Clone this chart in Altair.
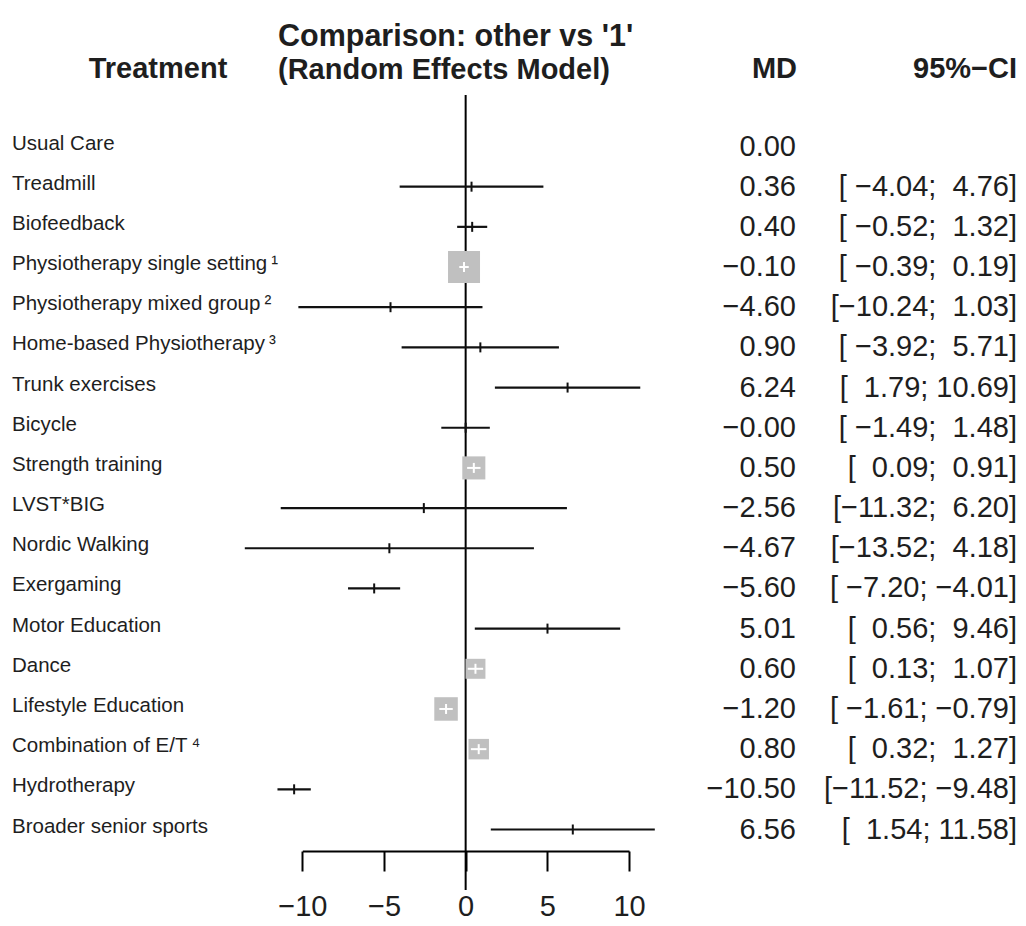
import altair as alt
import pandas as pd

# ---- data ----
treatments = [
    "Usual Care",
    "Treadmill",
    "Biofeedback",
    "Physiotherapy single setting\u2009\u00b9",
    "Physiotherapy mixed group\u2009\u00b2",
    "Home-based Physiotherapy\u2009\u00b3",
    "Trunk exercises",
    "Bicycle",
    "Strength training",
    "LVST*BIG",
    "Nordic Walking",
    "Exergaming",
    "Motor Education",
    "Dance",
    "Lifestyle Education",
    "Combination of E/T\u2009\u2074",
    "Hydrotherapy",
    "Broader senior sports",
]
md = [0.00, 0.36, 0.40, -0.10, -4.60, 0.90, 6.24, -0.0, 0.50, -2.56,
      -4.67, -5.60, 5.01, 0.60, -1.20, 0.80, -10.50, 6.56]
lower = [None, -4.04, -0.52, -0.39, -10.24, -3.92, 1.79, -1.49, 0.09, -11.32,
         -13.52, -7.20, 0.56, 0.13, -1.61, 0.32, -11.52, 1.54]
upper = [None, 4.76, 1.32, 0.19, 1.03, 5.71, 10.69, 1.48, 0.91, 6.20,
         4.18, -4.01, 9.46, 1.07, -0.79, 1.27, -9.48, 11.58]
# relative weight of the comparison (drawn as grey squares)
weight = [0, 0, 0, 100, 0, 0, 0, 0, 52, 0, 0, 0, 0, 39, 54, 41, 0, 0]
x_ticks = [-10, -5, 0, 5, 10]


def fmt_num(v, width=0):
    s = f"{v:{width}.2f}"
    return s.replace("-", "\u2212").replace(" ", "\u00a0")


md_txt = [fmt_num(v) for v in md]
ci_txt = [
    "" if lo is None else "[" + fmt_num(lo, 6) + ";\u00a0" + fmt_num(hi, 5) + "]"
    for lo, hi in zip(lower, upper)
]

df = pd.DataFrame({
    "row": list(range(len(treatments))),
    "label": treatments,
    "md": md,
    "lower": lower,
    "upper": upper,
    "weight": weight,
    "md_txt": md_txt,
    "ci_txt": ci_txt,
})

FONT = "Liberation Sans"
INK = "#1e1e1e"

xscale = alt.Scale(domain=[-10, 10], range=[294.3, 621], nice=False, zero=False)
xaxis = alt.Axis(
    values=x_ticks, title=None, grid=False,
    domainColor="black", domainWidth=2,
    tickColor="black", tickWidth=2, tickSize=20,
    labelFont=FONT, labelFontSize=29, labelColor=INK,
    labelPadding=21, labelFlush=False, labelOverlap=False,
    labelExpr="replace(format(datum.value, 'd'), '-', '\u2212')",
)
Y = alt.Y("row:Q", scale=alt.Scale(domain=[0, 17], range=[138.5, 821.5], nice=False, zero=False), axis=None)

base = alt.Chart(df)
has_ci = "isValid(datum.lower)"

ref = alt.Chart(pd.DataFrame({"x": [0]})).mark_rule(color="black", strokeWidth=2).encode(
    x=alt.X("x:Q", scale=xscale, axis=xaxis),
    y=alt.value(87), y2=alt.value(882),
)

ci = base.transform_filter(has_ci).mark_rule(color="#111", strokeWidth=2.2).encode(
    x=alt.X("lower:Q", scale=xscale, axis=xaxis), x2="upper:Q", y=Y,
)

est = base.transform_filter(has_ci + " && datum.weight == 0").mark_tick(
    color="#111", orient="vertical", size=10, thickness=2, opacity=1
).encode(x=alt.X("md:Q", scale=xscale, axis=xaxis), y=Y)

sq = base.transform_filter("datum.weight > 0").mark_square(
    color="#c0c0c0", opacity=1, filled=True
).encode(
    x=alt.X("md:Q", scale=xscale, axis=xaxis), y=Y,
    size=alt.Size("weight:Q", scale=alt.Scale(domain=[0, 100], range=[0, 1024]), legend=None),
)

sq_ci = base.transform_filter("datum.weight > 0").mark_rule(color="white", strokeWidth=2).encode(
    x=alt.X("lower:Q", scale=xscale, axis=xaxis), x2="upper:Q", y=Y,
)
sq_est = base.transform_filter("datum.weight > 0").mark_tick(
    color="white", orient="vertical", size=10, thickness=2, opacity=1
).encode(x=alt.X("md:Q", scale=xscale, axis=xaxis), y=Y)

labels = base.mark_text(align="left", baseline="middle", font=FONT, fontSize=20.5,
                        color=INK, dy=-3).encode(x=alt.value(4), y=Y, text="label:N")
md_col = base.mark_text(align="right", baseline="middle", font=FONT, fontSize=29,
                        color=INK).encode(x=alt.value(788), y=Y, text="md_txt:N")
ci_col = base.mark_text(align="right", baseline="middle", font=FONT, fontSize=29,
                        color=INK).encode(x=alt.value(1009), y=Y, text="ci_txt:N")


def header(txt, x, y, align, size=29):
    return alt.Chart(pd.DataFrame({"t": [txt]})).mark_text(
        align=align, baseline="alphabetic", font=FONT, fontSize=size,
        fontWeight="bold", color=INK
    ).encode(x=alt.value(x), y=alt.value(y), text="t:N")


headers = [
    header("Treatment", 150, 70, "center"),
    header("Comparison: other vs '1'", 270, 38, "left", 30.5),
    header("(Random Effects Model)", 270, 71, "left"),
    header("MD", 789, 70, "right"),
    header("95%\u2212CI", 1009, 70, "right"),
]

chart = alt.layer(ref, ci, est, sq, sq_ci, sq_est, labels, md_col, ci_col, *headers).properties(
    width=1010, height=843,
    background="white",
    autosize=alt.AutoSizeParams(type="none"),
    padding={"left": 0, "top": 0, "right": 0, "bottom": 71},
).configure_view(strokeWidth=0)

chart.save("out.html", embed_options={"renderer": "svg", "actions": False})
